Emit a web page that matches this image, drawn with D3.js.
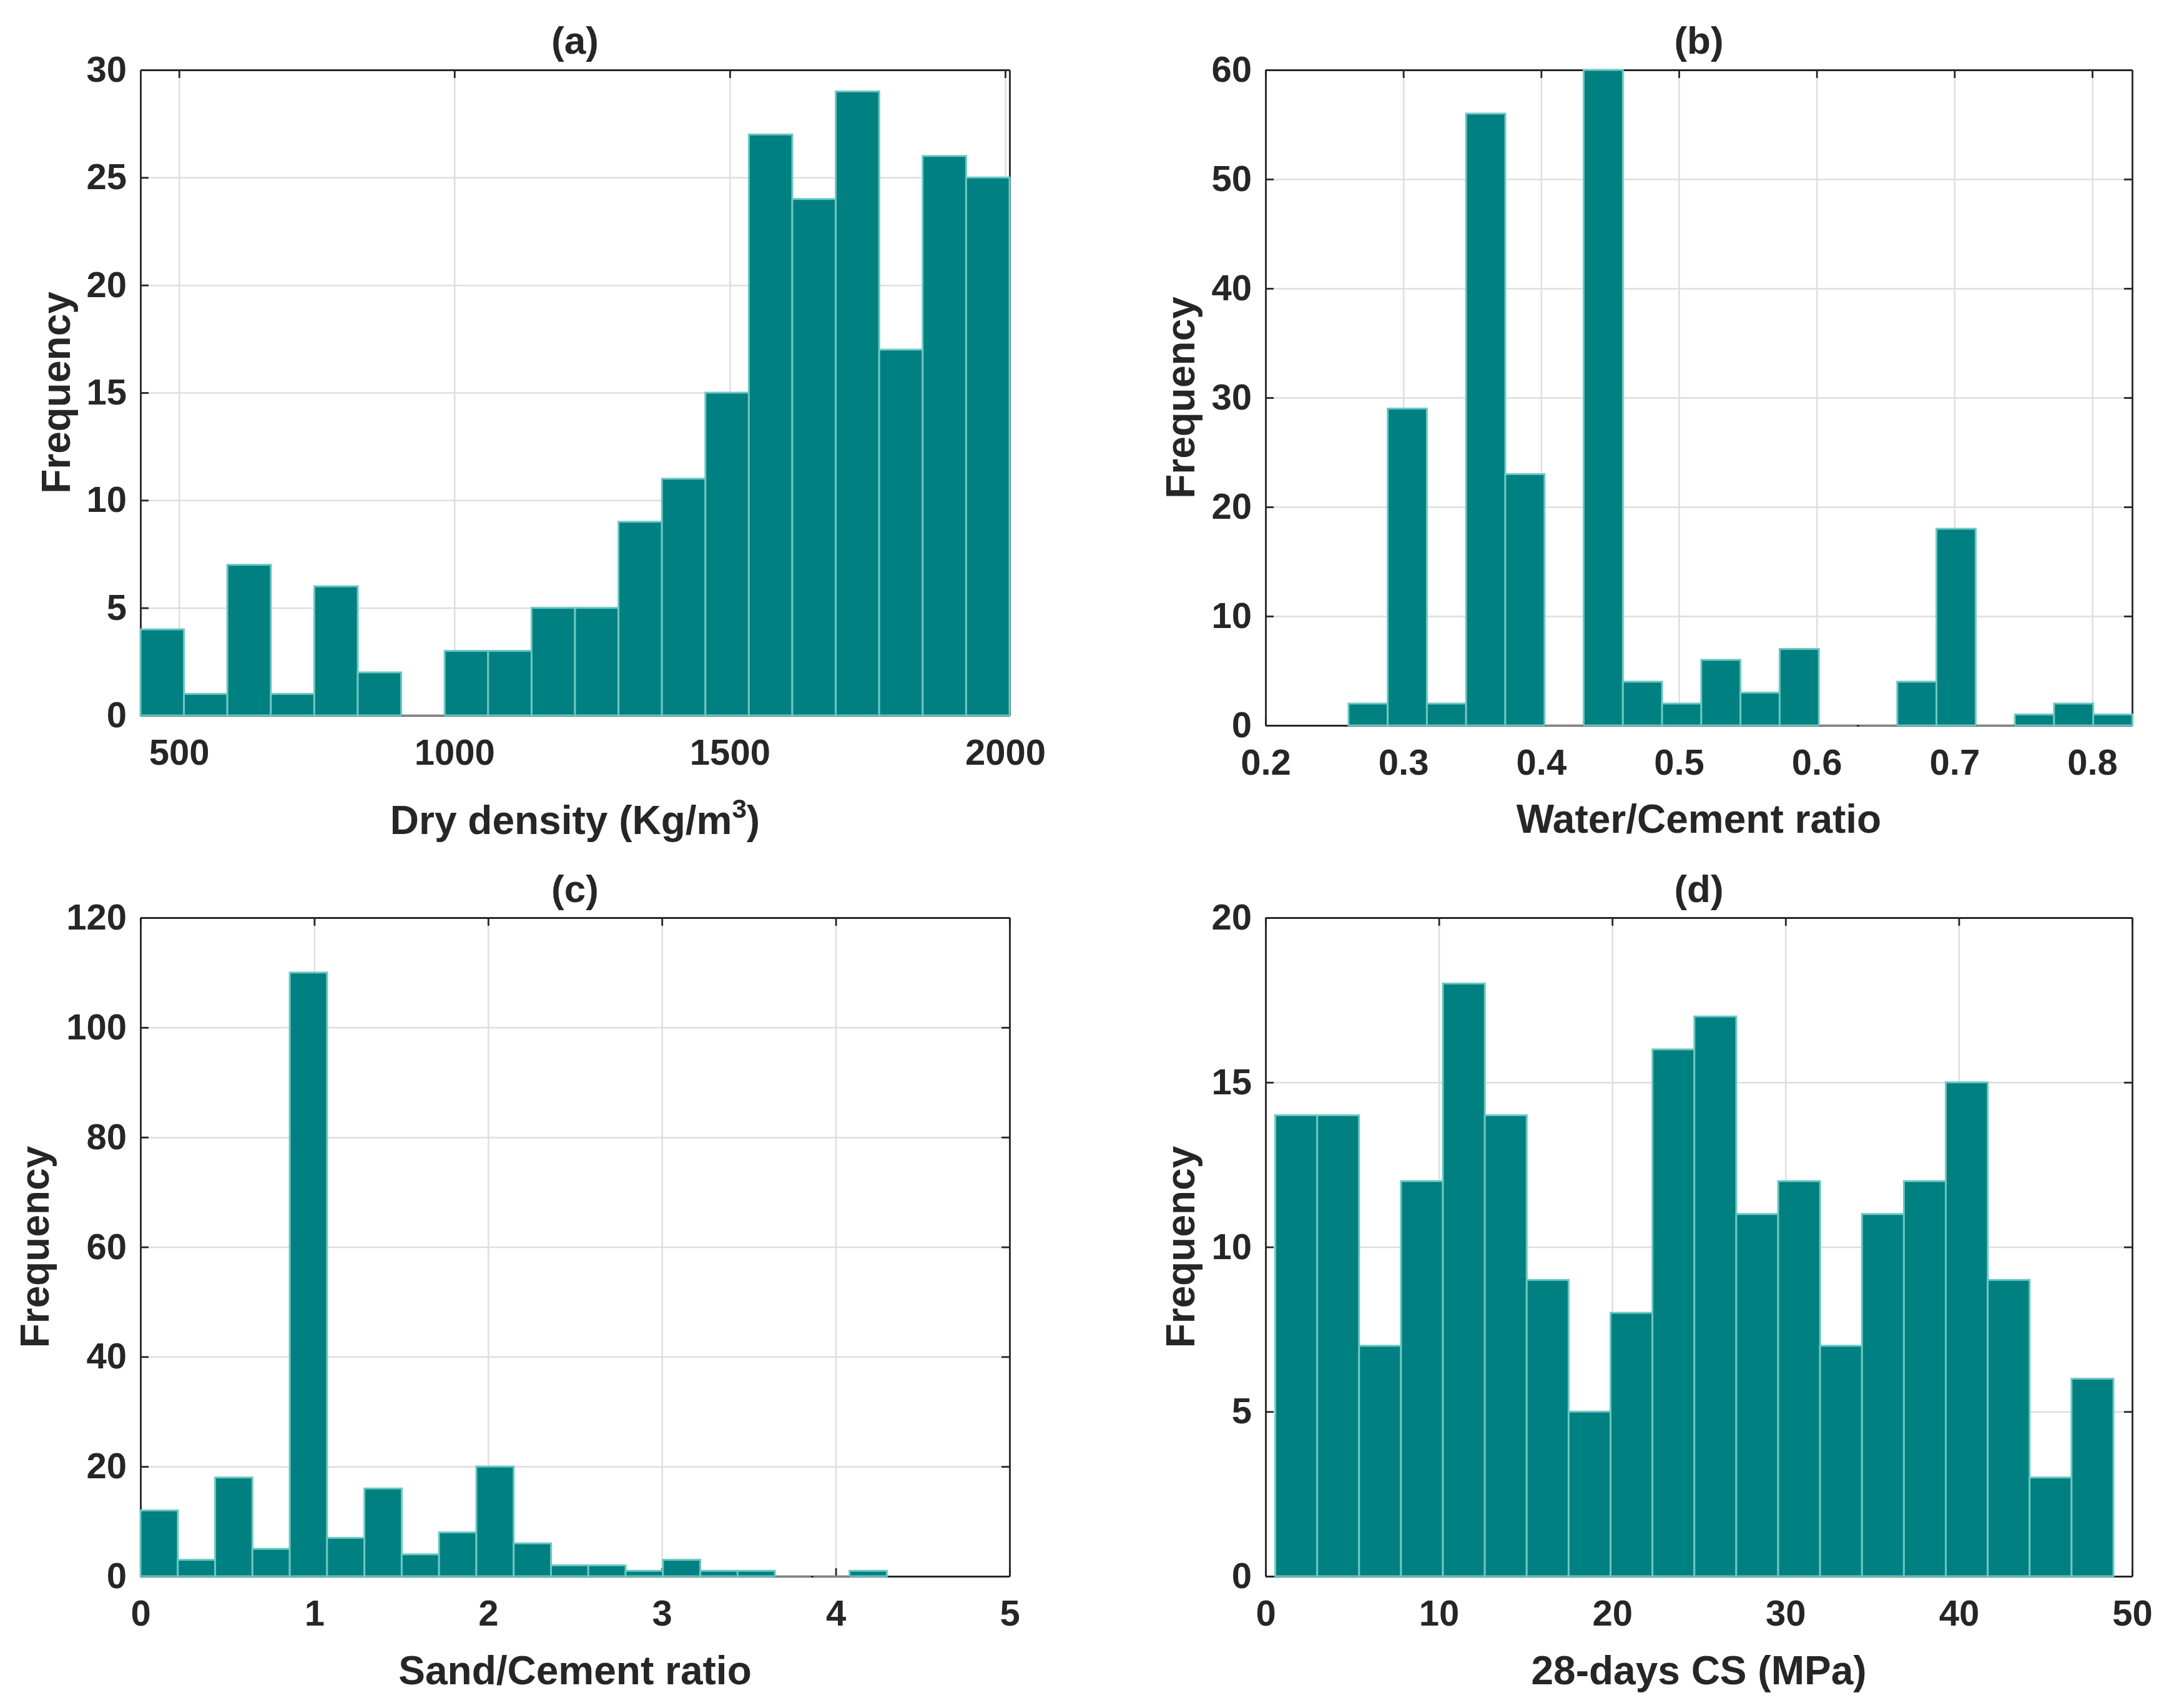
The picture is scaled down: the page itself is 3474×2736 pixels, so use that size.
<!DOCTYPE html>
<html>
<head>
<meta charset="utf-8">
<script src="https://cdn.jsdelivr.net/npm/d3@7"></script>
<style>
  body { margin: 0; background: #fff; }
  text { font-family: "Liberation Sans", Arial, sans-serif; font-weight: bold; fill: #262626; }
</style>
</head>
<body>
<div id="chart"></div>
<script>
// histogram counts (one value per bin)
var densityCounts = [4, 1, 7, 1, 6, 2, 0, 3, 3, 5, 5, 9, 11, 15, 27, 24, 29, 17, 26, 25];
var densityBinStart = 430, densityBinWidth = 78.9;
var densityTicks = [500, 1000, 1500, 2000];
var densityYTicks = [0, 5, 10, 15, 20, 25, 30];

var wcCounts = [2, 29, 2, 56, 23, 0, 60, 4, 2, 6, 3, 7, 0, 0, 4, 18, 0, 1, 2, 1];
var wcBinStart = 0.2602, wcBinWidth = 0.02845;
var wcTicks = [0.2, 0.3, 0.4, 0.5, 0.6, 0.7, 0.8];
var wcTickLabels = ["0.2", "0.3", "0.4", "0.5", "0.6", "0.7", "0.8"];
var wcYTicks = [0, 10, 20, 30, 40, 50, 60];

var scCounts = [12, 3, 18, 5, 110, 7, 16, 4, 8, 20, 6, 2, 2, 1, 3, 1, 1, 0, 0, 1];
var scBinStart = 0, scBinWidth = 0.2147;
var scTicks = [0, 1, 2, 3, 4, 5];
var scYTicks = [0, 20, 40, 60, 80, 100, 120];

var csCounts = [14, 14, 7, 12, 18, 14, 9, 5, 8, 16, 17, 11, 12, 7, 11, 12, 15, 9, 3, 6];
var csBinStart = 0.56, csBinWidth = 2.418;
var csTicks = [0, 10, 20, 30, 40, 50];
var csYTicks = [0, 5, 10, 15, 20];

var svgWidth = 3474;
var svgHeight = 2736;

var svg = d3.select("#chart")
  .append("svg")
  .attr("width", svgWidth)
  .attr("height", svgHeight)
  .style("background", "#fff");

var panels = [
  { title: "(a)", counts: densityCounts, start: densityBinStart, width: densityBinWidth,
    xDomain: [430, 2008], xTicks: densityTicks, xFmt: d => d, yDomain: [0, 30], yTicks: densityYTicks,
    xLabel: "Dry density (Kg/m", sup: "3", box: { l: 225, r: 1617, t: 112, b: 1146 },
    titleY: 86, tickPad: 38, xLabelY: 1336, yLabelX: 112 },
  { title: "(b)", counts: wcCounts, start: wcBinStart, width: wcBinWidth,
    xDomain: [0.2, 0.829], xTicks: wcTicks, xFmt: (d, i) => wcTickLabels[i], yDomain: [0, 60], yTicks: wcYTicks,
    xLabel: "Water/Cement ratio", box: { l: 2027, r: 3415, t: 112, b: 1162 },
    titleY: 86, tickPad: 38, xLabelY: 1334, yLabelX: 1913 },
  { title: "(c)", counts: scCounts, start: scBinStart, width: scBinWidth,
    xDomain: [0, 5], xTicks: scTicks, xFmt: d => d, yDomain: [0, 120], yTicks: scYTicks,
    xLabel: "Sand/Cement ratio", box: { l: 225, r: 1617, t: 1470, b: 2525 },
    titleY: 1445, tickPad: 38, xLabelY: 2698, yLabelX: 78 },
  { title: "(d)", counts: csCounts, start: csBinStart, width: csBinWidth,
    xDomain: [0, 50], xTicks: csTicks, xFmt: d => d, yDomain: [0, 20], yTicks: csYTicks,
    xLabel: "28-days CS (MPa)", box: { l: 2027, r: 3415, t: 1470, b: 2525 },
    titleY: 1445, tickPad: 38, xLabelY: 2698, yLabelX: 1913 }
];

var tickLen = 13;

panels.forEach(function(p) {
  var b = p.box;
  var w = b.r - b.l, h = b.b - b.t;
  var g = svg.append("g").attr("transform", `translate(${b.l}, ${b.t})`);

  var x = d3.scaleLinear().domain(p.xDomain).range([0, w]);
  var y = d3.scaleLinear().domain(p.yDomain).range([h, 0]);

  // grid
  g.append("g")
    .attr("transform", `translate(0, ${h})`)
    .call(d3.axisBottom(x).tickValues(p.xTicks).tickSize(-h).tickFormat(""))
    .call(s => s.select(".domain").remove())
    .call(s => s.selectAll("line").attr("stroke", "#dedede").attr("stroke-width", 2.5));
  g.append("g")
    .call(d3.axisLeft(y).tickValues(p.yTicks).tickSize(-w).tickFormat(""))
    .call(s => s.select(".domain").remove())
    .call(s => s.selectAll("line").attr("stroke", "#dedede").attr("stroke-width", 2.5));

  // axes with inward ticks on all four sides
  var bottom = g.append("g")
    .attr("transform", `translate(0, ${h})`)
    .call(d3.axisBottom(x).tickValues(p.xTicks).tickSizeInner(-tickLen).tickSizeOuter(0)
      .tickPadding(p.tickPad).tickFormat(p.xFmt));
  var left = g.append("g")
    .call(d3.axisLeft(y).tickValues(p.yTicks).tickSizeInner(-tickLen).tickSizeOuter(0)
      .tickPadding(22));
  var top = g.append("g")
    .call(d3.axisTop(x).tickValues(p.xTicks).tickSizeInner(-tickLen).tickSizeOuter(0).tickFormat(""));
  var right = g.append("g")
    .attr("transform", `translate(${w}, 0)`)
    .call(d3.axisRight(y).tickValues(p.yTicks).tickSizeInner(-tickLen).tickSizeOuter(0).tickFormat(""));

  [bottom, left, top, right].forEach(function(a) {
    a.selectAll(".domain").attr("stroke", "#262626").attr("stroke-width", 2.8);
    a.selectAll("line").attr("stroke", "#262626").attr("stroke-width", 2.8);
    a.selectAll("text").attr("font-size", 58).attr("fill", "#262626")
      .style("font-family", "'Liberation Sans', Arial, sans-serif").style("font-weight", "bold");
  });

  // bars
  var bins = p.counts.map((c, i) => ({ x0: p.start + i * p.width, x1: p.start + (i + 1) * p.width, c: c }));
  g.selectAll("rect.bar")
    .data(bins.filter(d => d.c > 0))
    .enter()
    .append("rect")
    .attr("class", "bar")
    .attr("x", d => x(d.x0))
    .attr("y", d => y(d.c))
    .attr("width", d => x(d.x1) - x(d.x0))
    .attr("height", d => y(0) - y(d.c))
    .attr("fill", "#008080")
    .attr("stroke", "#6cc7c2")
    .attr("stroke-width", 3);

  // empty bins show as a grey line at the base
  g.selectAll("line.zero")
    .data(bins.filter(d => d.c === 0))
    .enter()
    .append("line")
    .attr("class", "zero")
    .attr("x1", d => x(d.x0) + 2)
    .attr("x2", d => x(d.x1) - 2)
    .attr("y1", y(0))
    .attr("y2", y(0))
    .attr("stroke", "#8c8c8c")
    .attr("stroke-width", 3);

  // title
  svg.append("text")
    .attr("x", b.l + w / 2)
    .attr("y", p.titleY)
    .attr("text-anchor", "middle")
    .attr("font-size", 62)
    .text(p.title);

  // x label
  var xl = svg.append("text")
    .attr("x", b.l + w / 2)
    .attr("y", p.xLabelY)
    .attr("text-anchor", "middle")
    .attr("font-size", 64)
    .text(p.xLabel);
  if (p.sup) {
    xl.append("tspan").attr("dy", -26).attr("font-size", 42).text(p.sup);
    xl.append("tspan").attr("dy", 26).text(")");
  }

  // y label
  svg.append("text")
    .attr("transform", `translate(${p.yLabelX}, ${b.t + h / 2}) rotate(-90)`)
    .attr("text-anchor", "middle")
    .attr("font-size", 64)
    .text("Frequency");
});
</script>
</body>
</html>
